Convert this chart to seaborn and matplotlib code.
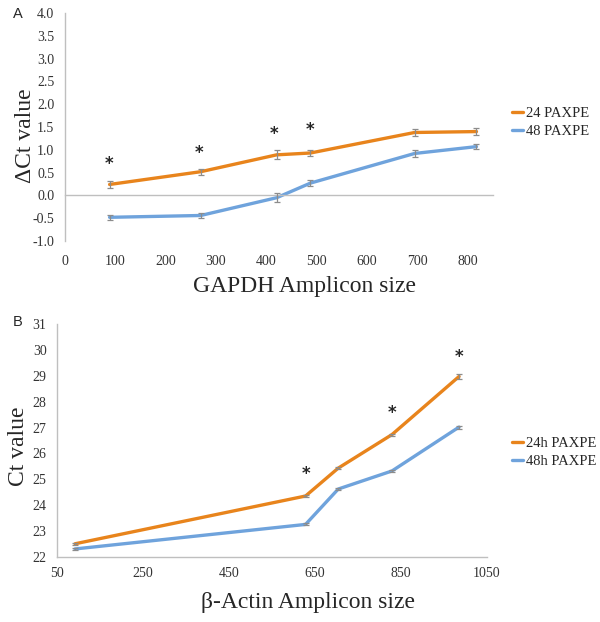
# qPCR amplicon size plots (panels A and B)
import pandas as pd
import numpy as np
import matplotlib
matplotlib.use("Agg")
import matplotlib.pyplot as plt
import seaborn as sns

# ============================================
# DATA
# ============================================

# Panel A - GAPDH
gapdh_size = [89, 270, 421, 488, 695, 818]
gapdh_24 = [0.24, 0.52, 0.89, 0.93, 1.38, 1.40]
gapdh_48 = [-0.48, -0.44, -0.05, 0.27, 0.92, 1.07]
gapdh_24_err = [0.07, 0.07, 0.10, 0.07, 0.08, 0.07]
gapdh_48_err = [0.06, 0.06, 0.10, 0.06, 0.08, 0.06]
gapdh_star_x = [88, 267, 416, 487]
gapdh_star_y = [0.68, 0.93, 1.35, 1.44]

# Panel B - beta-actin
actin_size = [92, 628, 704, 829, 985]
actin_24 = [22.50, 24.35, 25.43, 26.73, 28.98]
actin_48 = [22.30, 23.25, 24.62, 25.32, 27.02]
actin_24_err = [0.03, 0.05, 0.04, 0.04, 0.08]
actin_48_err = [0.03, 0.04, 0.04, 0.04, 0.06]
actin_star_x = [628, 829, 985]
actin_star_y = [25.20, 27.58, 29.74]

labels_a = ["24 PAXPE", "48 PAXPE"]
labels_b = ["24h PAXPE", "48h PAXPE"]

ORANGE = "#E8841C"
BLUE = "#6FA3DC"
GREY = "#BFBFBF"

sns.set_style("white")
plt.rcParams['font.family'] = ['Liberation Serif', 'DejaVu Serif']

fig = plt.figure(figsize=(6, 6.22), dpi=100)


def style_axes(ax):
    for side in ['top', 'right']:
        ax.spines[side].set_visible(False)
    for side in ['left', 'bottom']:
        ax.spines[side].set_color(GREY)
        ax.spines[side].set_linewidth(1)
    ax.tick_params(axis='both', direction='out', length=4, width=1,
                   color=GREY, labelsize=10, labelcolor='#333333')


def draw_panel(ax, size, s24, s48, e24, e48, labels):
    df = pd.DataFrame({
        'size': size + size,
        'value': s24 + s48,
        'group': [labels[0]] * len(size) + [labels[1]] * len(size),
    })
    sns.lineplot(data=df, x='size', y='value', hue='group',
                 hue_order=labels, palette=[ORANGE, BLUE],
                 linewidth=2.4, ax=ax)
    ax.errorbar(size, s24, yerr=e24, fmt='none', ecolor='#8C8C8C',
                elinewidth=0.9, capsize=2, capthick=0.9, zorder=5)
    ax.errorbar(size, s48, yerr=e48, fmt='none', ecolor='#8C8C8C',
                elinewidth=0.9, capsize=2, capthick=0.9, zorder=5)


def add_stars(ax, xs, ys):
    for sx, sy in zip(xs, ys):
        ax.text(sx, sy, '*', ha='center', va='center', fontsize=12,
                fontweight='bold', family='DejaVu Sans')


# ============================================
# PANEL A
# ============================================

axA = fig.add_axes([0.108, 0.6125, 0.713, 0.3666])
draw_panel(axA, gapdh_size, gapdh_24, gapdh_48, gapdh_24_err, gapdh_48_err, labels_a)
style_axes(axA)
axA.set_xlim(0, 850)
axA.set_ylim(-1.0, 4.0)
axA.set_yticks(np.arange(-1.0, 4.01, 0.5))
axA.set_yticklabels([f"{v:.1f}" for v in np.arange(-1.0, 4.01, 0.5)])
axA.set_xticks(range(0, 801, 100))
axA.spines['bottom'].set_position(('data', 0))
axA.tick_params(axis='x', pad=39)
add_stars(axA, gapdh_star_x, gapdh_star_y)
axA.set_xlabel('GAPDH Amplicon size', fontsize=17)
axA.set_ylabel('ΔCt value', fontsize=17)
axA.xaxis.set_label_coords(0.56, -0.155)
axA.yaxis.set_label_coords(-0.068, 0.46)
axA.legend(loc='center left', bbox_to_anchor=(0.853, 0.803),
           bbox_transform=fig.transFigure, frameon=False, fontsize=10.5,
           handlelength=0.8, handletextpad=0.15, borderpad=0,
           labelspacing=0.35, borderaxespad=0)
fig.text(0.022, 0.977, 'A', fontsize=10.5, family='Liberation Sans', va='center')

# ============================================
# PANEL B
# ============================================

axB = fig.add_axes([0.095, 0.105, 0.7167, 0.3736])
draw_panel(axB, actin_size, actin_24, actin_48, actin_24_err, actin_48_err, labels_b)
style_axes(axB)
axB.set_xlim(50, 1050)
axB.set_ylim(22, 31)
axB.set_yticks(range(22, 32))
axB.set_xticks(range(50, 1051, 200))
add_stars(axB, actin_star_x, actin_star_y)
axB.set_xlabel('β-Actin Amplicon size', fontsize=17)
axB.set_ylabel('Ct value', fontsize=17)
axB.xaxis.set_label_coords(0.584, -0.152)
axB.yaxis.set_label_coords(-0.065, 0.476)
axB.legend(loc='center left', bbox_to_anchor=(0.853, 0.273),
           bbox_transform=fig.transFigure, frameon=False, fontsize=10.5,
           handlelength=0.8, handletextpad=0.15, borderpad=0,
           labelspacing=0.35, borderaxespad=0)
fig.text(0.022, 0.482, 'B', fontsize=10.5, family='Liberation Sans', va='center')

plt.savefig("out.png", dpi=100)
